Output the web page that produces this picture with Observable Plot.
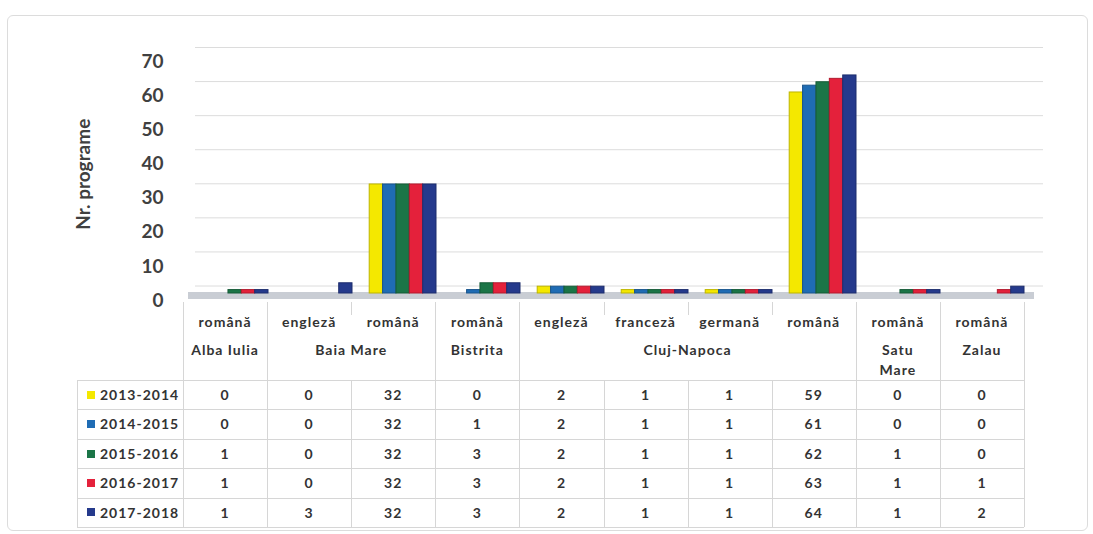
<!DOCTYPE html>
<html><head><meta charset="utf-8">
<script src="https://cdn.jsdelivr.net/npm/d3@7"></script>
<script src="https://cdn.jsdelivr.net/npm/@observablehq/plot@0.6"></script>
<style>
body{margin:0;background:#fff;font-family:Lato,"Open Sans",sans-serif;}
#wrap{position:relative;width:1093px;height:534px;overflow:hidden;}
#frame{position:absolute;left:7px;top:15px;width:1081px;height:516px;border:1px solid #dcdcdc;border-radius:6px;box-sizing:border-box;}
#chart{position:absolute;left:0;top:0;}
.cell{position:absolute;text-align:center;font-weight:700;font-size:14px;letter-spacing:1px;color:#333;}
.vl{position:absolute;width:1px;background:#d6d6d6;}
.hl{position:absolute;height:1px;background:#d6d6d6;}
.key{position:absolute;width:8px;height:8px;}
</style></head>
<body>
<div id="wrap"><div id="frame"></div><div id="chart"></div><div id="table"></div></div>
<script>
// ---- data ----
const languages = ["română","engleză","română","română","engleză","franceză","germană","română","română","română"];
const cities = ["Alba Iulia","Baia Mare","Baia Mare","Bistrita","Cluj-Napoca","Cluj-Napoca","Cluj-Napoca","Cluj-Napoca","Satu Mare","Zalau"];
const series = ["2013-2014","2014-2015","2015-2016","2016-2017","2017-2018"];
const v2013_2014 = [0,0,32,0,2,1,1,59,0,0];
const v2014_2015 = [0,0,32,1,2,1,1,61,0,0];
const v2015_2016 = [1,0,32,3,2,1,1,62,1,0];
const v2016_2017 = [1,0,32,3,2,1,1,63,1,1];
const v2017_2018 = [1,3,32,3,2,1,1,64,1,2];
const yTicks = [0,10,20,30,40,50,60,70];
const yLabel = "Nr. programe";
const colors = ["#f4e800","#1f6cb4","#1b7547","#e4213b","#253a8c"];

const values = [v2013_2014, v2014_2015, v2015_2016, v2016_2017, v2017_2018];
const keys = d3.range(languages.length);

// ---- chart ----
const W = 1093, H = 302;
const mL = 183, mR = 69;
const step = (W - mL - mR) / keys.length;     // band width
const barW = 13.38, clusterLeft = 17.2;        // bar layout inside a band
const barMarks = series.map((s, si) => Plot.barY(
  values[si].map((v, i) => ({key: i, value: v})),
  {x: "key", y: "value", fill: colors[si],
   stroke: d3.color(colors[si]).darker(0.7).formatHex(), strokeWidth: 1,
   insetLeft: clusterLeft + si * barW,
   insetRight: step - (clusterLeft + (si + 1) * barW)}
));
const chart = Plot.plot({
  width: W, height: H,
  marginLeft: mL, marginRight: mR, marginTop: 54.5, marginBottom: 9,
  style: {fontFamily: "Lato, sans-serif", background: "transparent", overflow: "visible"},
  x: {domain: keys, padding: 0, axis: null},
  y: {domain: [0, 70]},
  marks: [
    Plot.ruleY(yTicks, {stroke: "#dcdcdc", dx: 12, dy: -7.5, insetRight: -7}),
    Plot.ruleY([0], {stroke: "#c9cdd4", strokeWidth: 7, dx: 5, dy: 2, insetRight: -5}),
    ...barMarks,
    Plot.axisY(yTicks, {tickSize: 0, tickPadding: 20, dy: 7, fontSize: 19, fontWeight: "bold",
      fill: "#404040", label: yLabel, labelAnchor: "center", labelOffset: 107, labelArrow: "none"})
  ]
});
document.getElementById("chart").appendChild(chart);

// ---- data table ----
const T = document.getElementById("table");
const x0 = mL, legendLeft = 77, tableTop = 302, hdrBottom = 380, rowH = 29.4;
const xb = b => x0 + b * step;
function add(cls, css, text) {
  const d = document.createElement("div");
  d.className = cls;
  Object.assign(d.style, css);
  if (text != null) d.textContent = text;
  T.appendChild(d);
  return d;
}
const isGroupStart = b => b === 0 || cities[b] !== cities[b - 1];
const tableBottom = hdrBottom + rowH * series.length;
for (let b = 0; b <= languages.length; b++) {
  if (b === languages.length || isGroupStart(b)) {
    add("vl", {left: xb(b) + "px", top: tableTop + "px", height: (tableBottom - tableTop) + "px"});
  } else {
    add("vl", {left: xb(b) + "px", top: tableTop + "px", height: "13px"});
    add("vl", {left: xb(b) + "px", top: hdrBottom + "px", height: (tableBottom - hdrBottom) + "px"});
  }
}
add("vl", {left: legendLeft + "px", top: hdrBottom + "px", height: (tableBottom - hdrBottom) + "px"});
for (let r = 0; r <= series.length; r++) {
  add("hl", {left: legendLeft + "px", top: (hdrBottom + r * rowH) + "px", width: (xb(languages.length) - legendLeft) + "px"});
}
languages.forEach((l, i) => add("cell", {left: xb(i) + "px", width: step + "px", top: "312px", lineHeight: "20px"}, l));
for (let i = 0; i < cities.length; ) {
  let j = i; while (j + 1 < cities.length && cities[j + 1] === cities[i]) j++;
  const span = (j - i + 1) * step;
  add("cell", {left: (xb(i) + 6) + "px", width: (span - 12) + "px", top: "340px", lineHeight: "20px"}, cities[i]);
  i = j + 1;
}
series.forEach((s, si) => {
  const top = hdrBottom + si * rowH;
  add("key", {left: "87px", top: (top + rowH / 2 - 4) + "px", background: colors[si]});
  add("cell", {left: "100px", top: top + "px", lineHeight: rowH + "px", textAlign: "left"}, s);
  values[si].forEach((v, i) => add("cell", {left: xb(i) + "px", width: step + "px", top: top + "px", lineHeight: rowH + "px"}, String(v)));
});
</script>
</body></html>
